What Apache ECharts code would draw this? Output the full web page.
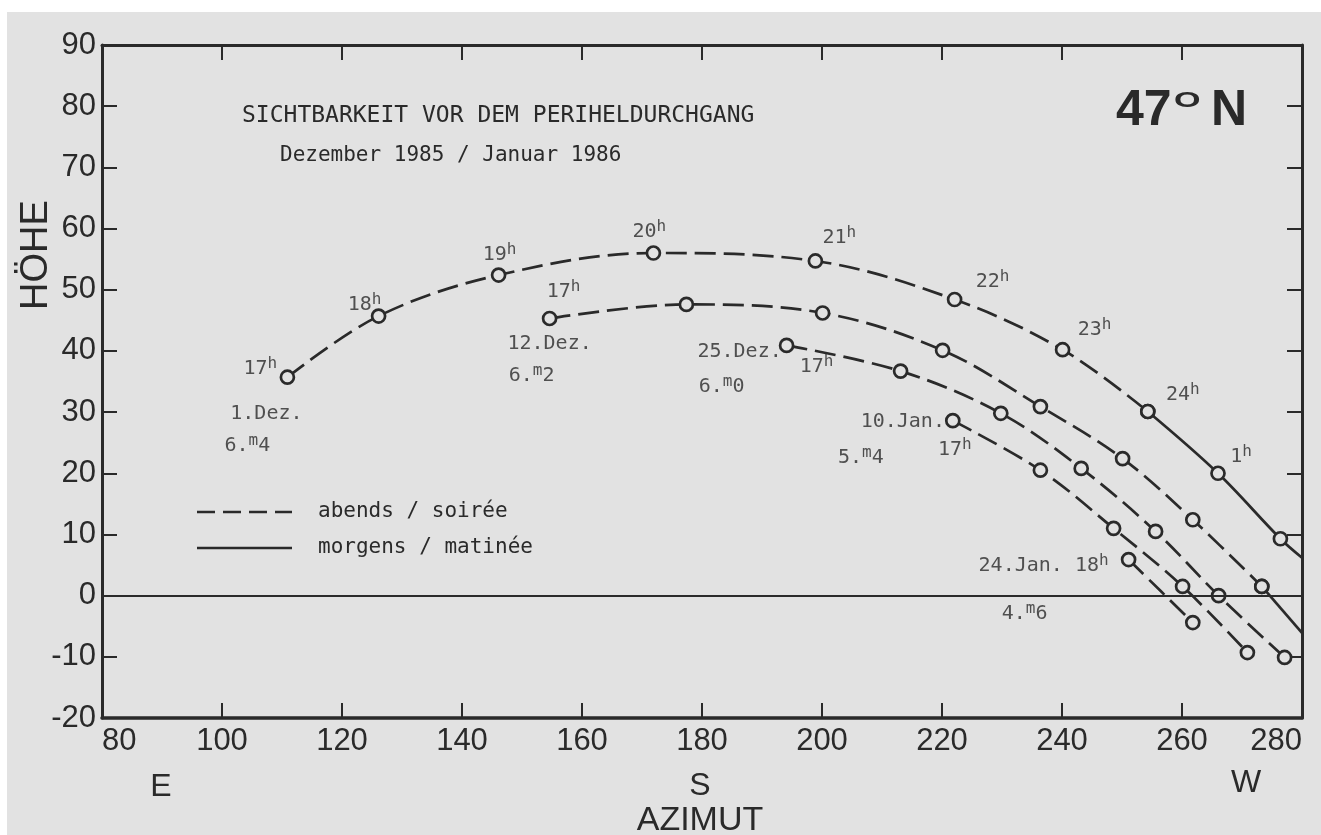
<!DOCTYPE html>
<html>
<head>
<meta charset="utf-8">
<script src="https://cdn.jsdelivr.net/npm/echarts@6/dist/echarts.min.js"></script>
<style>
  html, body { margin: 0; padding: 0; background: #ffffff; }
  #chart { width: 1321px; height: 835px; }
</style>
</head>
<body>
<div id="chart"></div>
<script>
// ---------------- DATA (azimuth °, altitude °) ----------------
// 1. Dez. – evening (dashed) 17h .. 24h
const dec1Az   = [110.9, 126.1, 146.1, 171.9, 198.9, 222.1, 240.1, 254.3];
const dec1Alt  = [35.7, 45.7, 52.4, 56.0, 54.7, 48.4, 40.2, 30.1];
const dec1Hours = ['17', '18', '19', '20', '21', '22', '23', '24'];
// 1. Dez. – morning (solid) 24h .. 2h, then to the frame
const dec1MornAz  = [254.3, 266.0, 276.4, 280.0];
const dec1MornAlt = [30.1, 20.0, 9.3, 6.2];
const dec1MornHours = ['', '1', '', ''];
// 12. Dez.
const dec12Az  = [154.6, 177.4, 200.1, 220.1, 236.4, 250.1, 261.8, 273.3];
const dec12Alt = [45.3, 47.6, 46.2, 40.1, 30.9, 22.4, 12.4, 1.5];
const dec12MornAz  = [273.3, 280.0];
const dec12MornAlt = [1.5, -6.1];
// 25. Dez.
const dec25Az  = [194.1, 213.1, 229.8, 243.2, 255.6, 266.1, 277.1];
const dec25Alt = [40.9, 36.7, 29.8, 20.8, 10.5, 0.0, -10.1];
// 10. Jan.
const jan10Az  = [221.8, 236.4, 248.6, 260.1, 270.9];
const jan10Alt = [28.6, 20.5, 11.0, 1.5, -9.3];
// 24. Jan.
const jan24Az  = [251.1, 261.8];
const jan24Alt = [5.9, -4.4];

// start-of-curve annotations
const startDates  = ['1.Dez.', '12.Dez.', '25.Dez.', '10.Jan.', '24.Jan.'];
const startHours  = ['17', '17', '17', '17', '18'];
const magnitudes  = ['6.4', '6.2', '6.0', '5.4', '4.6'];

// axis ticks
const xMin = 80, xMax = 280, xStep = 20;
const yMin = -20, yMax = 90, yStep = 10;

// texts
const titleText    = 'SICHTBARKEIT VOR DEM PERIHELDURCHGANG';
const subtitleText = 'Dezember 1985 / Januar 1986';
const legendTexts  = ['abends / soirée', 'morgens / matinée'];
const dirLabels    = ['E', 'S', 'W'];

// ---------------- STYLE / LAYOUT (not data) ----------------
const INK = '#2a2a2a';
const PAPER = '#e2e2e2';
const MONO = '"DejaVu Sans Mono", "Liberation Mono", monospace';
const SANS = '"Liberation Sans", Arial, sans-serif';
const DASH = [21, 8];

// label offsets (pixels from point centre to label centre)
const dec1HourOffsets = [[-27, -8], [-14, -11], [1, -20], [-4, -21], [24, -23], [38, -18], [32, -20], [35, -17]];
const dec1MornHourOffsets = [null, [23, -16], null, null];
const startHourOffsets = [null, [14, -27], [30, 21], [2, 29], null];
const startDateOffsets = [[-21, 37], [0, 25], [-47, 6], [-50, 1], [-85, 6]];
const startMagOffsets  = [[-40, 69], [-18, 57], [-65, 41], [-92, 37], [-104, 54]];

const zip = (a, b) => a.map((v, i) => [v, b[i]]);

function curveSeries(name, az, alt, dashed, hideLast) {
  return {
    name: name,
    type: 'line',
    data: zip(az, alt).map((p, i) => {
      const item = { value: p };
      if (hideLast && i === az.length - 1) item.symbol = 'none';
      return item;
    }),
    smooth: 0.35,
    showAllSymbol: true,
    symbol: 'circle',
    symbolSize: 13,
    lineStyle: { color: INK, width: 2.7, type: dashed ? DASH : 'solid' },
    itemStyle: { color: PAPER, borderColor: INK, borderWidth: 2.7 },
    emphasis: { disabled: true },
    silent: true,
    z: 3
  };
}

// annotation items anchored on the data points
const annotations = [];
function hourText(h) { return '{n|' + h + '}{s|h}'; }
function magText(m) { const p = m.split('.'); return '{n|' + p[0] + '.}{m|m}{n|' + p[1] + '}'; }
function addAnn(x, y, text, off) {
  annotations.push({ value: [x, y], label: { formatter: text, offset: off } });
}
dec1Hours.forEach((h, i) => { if (i > 0) addAnn(dec1Az[i], dec1Alt[i], hourText(h), dec1HourOffsets[i]); });
dec1MornHours.forEach((h, i) => { if (h) addAnn(dec1MornAz[i], dec1MornAlt[i], hourText(h), dec1MornHourOffsets[i]); });
const starts = [[dec1Az, dec1Alt], [dec12Az, dec12Alt], [dec25Az, dec25Alt], [jan10Az, jan10Alt], [jan24Az, jan24Alt]];
starts.forEach((c, k) => {
  const x = c[0][0], y = c[1][0];
  if (k === 0) addAnn(x, y, hourText(startHours[k]), dec1HourOffsets[0]);
  else if (startHourOffsets[k]) addAnn(x, y, hourText(startHours[k]), startHourOffsets[k]);
  const dateText = startHourOffsets[k] || k === 0
    ? '{n|' + startDates[k] + '}'
    : '{n|' + startDates[k] + ' ' + startHours[k] + '}{s|h}';
  addAnn(x, y, dateText, startDateOffsets[k]);
  addAnn(x, y, magText(magnitudes[k]), startMagOffsets[k]);
});

const axisCommon = {
  type: 'value',
  min: xMin, max: xMax, interval: xStep,
  axisLine: { show: true, onZero: false, lineStyle: { color: INK, width: 3.5 } },
  axisTick: { show: true, inside: true, length: 15, lineStyle: { color: INK, width: 2 } },
  splitLine: { show: false }
};

const option = {
  backgroundColor: PAPER,
  animation: false,
  grid: { left: 102, right: 19, top: 45, bottom: 117, containLabel: false },
  xAxis: [
    Object.assign({}, axisCommon, {
      position: 'bottom',
      axisLabel: { color: INK, fontFamily: SANS, fontSize: 31, margin: 8,
                   alignMinLabel: 'left', alignMaxLabel: 'right' }
    }),
    Object.assign({}, axisCommon, {
      position: 'top',
      axisLine: { show: true, onZero: false, lineStyle: { color: INK, width: 3 } },
      axisLabel: { show: false }
    })
  ],
  yAxis: [
    Object.assign({}, axisCommon, {
      min: yMin, max: yMax, interval: yStep,
      position: 'left',
      axisLine: { show: true, onZero: false, lineStyle: { color: INK, width: 3 } },
      axisLabel: { color: INK, fontFamily: SANS, fontSize: 31, margin: 6 }
    }),
    Object.assign({}, axisCommon, {
      min: yMin, max: yMax, interval: yStep,
      position: 'right',
      axisLine: { show: true, onZero: false, lineStyle: { color: INK, width: 3 } },
      axisLabel: { show: false }
    })
  ],
  series: [
    Object.assign(curveSeries('1. Dez. abends', dec1Az, dec1Alt, true, false), {
      markLine: {
        silent: true, symbol: ['none', 'none'],
        label: { show: false },
        lineStyle: { color: INK, width: 1.8, type: 'solid' },
        data: [{ yAxis: 0 }]
      }
    }),
    curveSeries('1. Dez. morgens', dec1MornAz, dec1MornAlt, false, true),
    curveSeries('12. Dez. abends', dec12Az, dec12Alt, true, false),
    curveSeries('12. Dez. morgens', dec12MornAz, dec12MornAlt, false, true),
    curveSeries('25. Dez.', dec25Az, dec25Alt, true, false),
    curveSeries('10. Jan.', jan10Az, jan10Alt, true, false),
    curveSeries('24. Jan.', jan24Az, jan24Alt, true, false),
    {
      name: 'labels',
      type: 'scatter',
      data: annotations,
      symbol: 'circle',
      symbolSize: 1,
      itemStyle: { color: 'rgba(0,0,0,0)' },
      silent: true,
      z: 5,
      label: {
        show: true,
        position: 'inside',
        color: INK,
        fontFamily: MONO,
        fontSize: 20,
        rich: {
          n: { fontFamily: MONO, fontSize: 20, color: INK, lineHeight: 26 },
          s: { fontFamily: MONO, fontSize: 16, color: INK, lineHeight: 16, verticalAlign: 'top' },
          m: { fontFamily: MONO, fontSize: 16, color: INK, lineHeight: 4, verticalAlign: 'top' }
        }
      }
    }
  ],
  graphic: [
    { type: 'rect', shape: { x: 0, y: 0, width: 1321, height: 12 }, style: { fill: '#ffffff' }, z: 100 },
    { type: 'rect', shape: { x: 0, y: 0, width: 7, height: 835 }, style: { fill: '#ffffff' }, z: 100 },
    { type: 'text', x: 242, y: 116, z: 10,
      style: { text: titleText, fontFamily: MONO, fontSize: 23, fill: INK, align: 'left', verticalAlign: 'middle' } },
    { type: 'text', x: 280, y: 156, z: 10,
      style: { text: subtitleText, fontFamily: MONO, fontSize: 21, fill: INK, align: 'left', verticalAlign: 'middle' } },
    { type: 'text', x: 1116, y: 111, z: 10,
      style: { text: '47', fontFamily: SANS, fontWeight: 'bold', fontSize: 50, fill: INK, align: 'left', verticalAlign: 'middle' } },
    { type: 'text', x: 1174, y: 101, scaleX: 1.55, z: 10,
      style: { text: 'O', fontFamily: SANS, fontWeight: 'bold', fontSize: 22, fill: INK, align: 'left', verticalAlign: 'middle' } },
    { type: 'text', x: 1211, y: 111, z: 10,
      style: { text: 'N', fontFamily: SANS, fontWeight: 'bold', fontSize: 50, fill: INK, align: 'left', verticalAlign: 'middle' } },
    { type: 'line', z: 10, shape: { x1: 197, y1: 512, x2: 292, y2: 512 },
      style: { stroke: INK, lineWidth: 2.7, lineDash: [18, 8] } },
    { type: 'line', z: 10, shape: { x1: 197, y1: 548, x2: 292, y2: 548 },
      style: { stroke: INK, lineWidth: 2.7 } },
    { type: 'text', x: 318, y: 512, z: 10,
      style: { text: legendTexts[0], fontFamily: MONO, fontSize: 21, fill: INK, align: 'left', verticalAlign: 'middle' } },
    { type: 'text', x: 318, y: 548, z: 10,
      style: { text: legendTexts[1], fontFamily: MONO, fontSize: 21, fill: INK, align: 'left', verticalAlign: 'middle' } },
    { type: 'text', x: 37, y: 255, rotation: Math.PI / 2, z: 10,
      style: { text: 'HÖHE', fontFamily: SANS, fontSize: 38, fill: INK, align: 'center', verticalAlign: 'middle' } },
    { type: 'text', x: 700, y: 821, z: 10,
      style: { text: 'AZIMUT', fontFamily: SANS, fontSize: 34, fill: INK, align: 'center', verticalAlign: 'middle' } },
    { type: 'text', x: 161, y: 787, z: 10,
      style: { text: dirLabels[0], fontFamily: SANS, fontSize: 32, fill: INK, align: 'center', verticalAlign: 'middle' } },
    { type: 'text', x: 700, y: 786, z: 10,
      style: { text: dirLabels[1], fontFamily: SANS, fontSize: 32, fill: INK, align: 'center', verticalAlign: 'middle' } },
    { type: 'text', x: 1246, y: 783, z: 10,
      style: { text: dirLabels[2], fontFamily: SANS, fontSize: 32, fill: INK, align: 'center', verticalAlign: 'middle' } }
  ]
};

const chart = echarts.init(document.getElementById('chart'), null, { renderer: 'canvas' });
chart.setOption(option);
</script>
</body>
</html>
